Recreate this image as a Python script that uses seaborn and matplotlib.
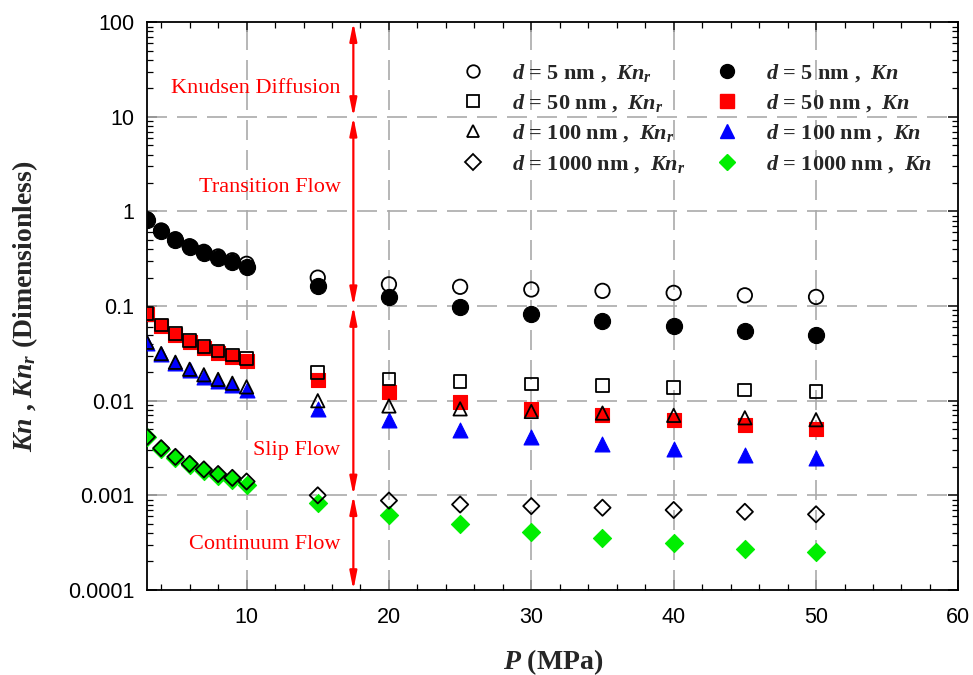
import numpy as np
import pandas as pd
import matplotlib
matplotlib.use("Agg")
import matplotlib.pyplot as plt
from matplotlib.lines import Line2D
from matplotlib.ticker import FixedLocator, FixedFormatter, MultipleLocator, LogLocator, NullFormatter
import seaborn as sns

# ---------------- data ----------------
pressure = [3, 4, 5, 6, 7, 8, 9, 10, 15, 20, 25, 30, 35, 40, 45, 50]

kn_5 = [0.82, 0.62, 0.50, 0.42, 0.36, 0.32, 0.29, 0.26, 0.165, 0.125, 0.098, 0.082, 0.070, 0.062, 0.055, 0.050]
knr_5 = [0.83, 0.63, 0.51, 0.43, 0.375, 0.335, 0.305, 0.28, 0.20, 0.17, 0.16, 0.15, 0.145, 0.138, 0.130, 0.125]

kn_50 = [0.082, 0.062, 0.050, 0.042, 0.036, 0.032, 0.029, 0.026, 0.0165, 0.0125, 0.0098, 0.0082, 0.0070, 0.0062, 0.0055, 0.0050]
knr_50 = [0.083, 0.063, 0.051, 0.043, 0.0375, 0.0335, 0.0305, 0.028, 0.020, 0.017, 0.016, 0.015, 0.0145, 0.0138, 0.0130, 0.0125]

kn_100 = [0.041, 0.031, 0.025, 0.021, 0.018, 0.016, 0.0145, 0.013, 0.0082, 0.0062, 0.0049, 0.0041, 0.0035, 0.0031, 0.0027, 0.0025]
knr_100 = [0.0415, 0.0315, 0.0255, 0.0215, 0.0188, 0.0168, 0.0153, 0.014, 0.010, 0.0088, 0.0082, 0.0077, 0.0074, 0.0070, 0.0066, 0.0063]

kn_1000 = [0.0041, 0.0031, 0.0025, 0.0021, 0.0018, 0.0016, 0.00145, 0.0013, 0.00082, 0.00062, 0.00050, 0.00041, 0.00035, 0.00031, 0.00027, 0.00025]
knr_1000 = [0.00415, 0.00315, 0.00255, 0.00215, 0.00188, 0.00168, 0.00153, 0.0014, 0.0010, 0.00088, 0.00080, 0.00077, 0.00074, 0.00070, 0.00067, 0.00063]

diameters = ["5", "50", "100", "1000"]
kn_series = [kn_5, kn_50, kn_100, kn_1000]
knr_series = [knr_5, knr_50, knr_100, knr_1000]

y_ticks = [1e-4, 1e-3, 1e-2, 1e-1, 1, 10, 100]
y_tick_labels = ["0.0001", "0.001", "0.01", "0.1", "1", "10", "100"]
x_ticks = [10, 20, 30, 40, 50, 60]

regimes = ["Knudsen Diffusion", "Transition Flow", "Slip Flow", "Continuum Flow"]
regime_y = [20, 1.8, 0.003, 0.0003]
regime_bounds = [100, 10, 0.1, 0.001, 0.0001]
arrow_x = 17.5

# ---------------- style ----------------
sns.set_theme(style="ticks")
plt.rcParams["font.family"] = ["Liberation Sans", "DejaVu Sans"]
plt.rcParams["mathtext.fontset"] = "custom"
plt.rcParams["mathtext.it"] = "Liberation Serif:italic:bold"
plt.rcParams["mathtext.rm"] = "Liberation Serif:bold"
plt.rcParams["mathtext.bf"] = "Liberation Serif:bold"

SERIF = ["Liberation Serif", "DejaVu Serif"]
fill_colors = ["black", "#ff0000", "#0000ff", "#00ee00"]
markers = ["o", "s", "^", "D"]
sizes = [135, 105, 115, 85]

rows = []
for d, kn, knr in zip(diameters, kn_series, knr_series):
    for p, a, b in zip(pressure, kn, knr):
        rows.append({"P": p, "value": a, "d": d, "kind": "Kn"})
        rows.append({"P": p, "value": b, "d": d, "kind": "Knr"})
df = pd.DataFrame(rows)

fig = plt.figure(figsize=(9.73, 6.75), dpi=100)
ax = fig.add_axes([0.151, 0.126, 0.834, 0.841])

# filled (Kn) markers
for d, c, m, s in zip(diameters, fill_colors, markers, sizes):
    sub = df[(df.d == d) & (df.kind == "Kn")]
    sns.scatterplot(data=sub, x="P", y="value", ax=ax, marker=m, s=s,
                    color=c, edgecolor=c, linewidth=0.8, zorder=3, legend=False)
# hollow (Kn_r) markers
for d, m, s in zip(diameters, markers, sizes):
    sub = df[(df.d == d) & (df.kind == "Knr")]
    sns.scatterplot(data=sub, x="P", y="value", ax=ax, marker=m, s=s * 0.8,
                    facecolor="none", edgecolor="black", linewidth=1.3, zorder=4, legend=False)

ax.set_yscale("log")
ax.set_xlim(3, 60)
ax.set_ylim(1e-4, 100)

ax.yaxis.set_major_locator(FixedLocator(y_ticks))
ax.yaxis.set_major_formatter(FixedFormatter(y_tick_labels))
ax.yaxis.set_minor_locator(LogLocator(base=10, subs=np.arange(2, 10)))
ax.yaxis.set_minor_formatter(NullFormatter())
ax.xaxis.set_major_locator(FixedLocator(x_ticks))
ax.xaxis.set_minor_locator(MultipleLocator(2))

ax.tick_params(which="both", direction="in", top=True, right=True, labelsize=15.5, colors="black")
ax.tick_params(which="major", length=7, width=1.1)
ax.tick_params(which="minor", length=4, width=0.9)
ax.tick_params(axis="x", pad=12)
ax.tick_params(axis="y", pad=9)
for sp in ax.spines.values():
    sp.set_linewidth(1.3)
    sp.set_color("black")

# dashed grid at major ticks
ax.grid(False)
for xv in x_ticks[:-1]:
    ax.axvline(xv, color="#aaaaaa", lw=1.2, ls=(0, (12, 6)), zorder=1)
for yv in y_ticks[1:-1]:
    ax.axhline(yv, color="#aaaaaa", lw=1.2, ls=(0, (12, 6)), zorder=1)

# regime arrows and labels
for top, bot in zip(regime_bounds[:-1], regime_bounds[1:]):
    ax.annotate("", xy=(arrow_x, bot), xytext=(arrow_x, top),
                arrowprops=dict(arrowstyle="<|-|>,head_length=0.9,head_width=0.18",
                                color="red", lw=1.6, shrinkA=0, shrinkB=0), zorder=5)
for name, yv in zip(regimes, regime_y):
    ax.text(16.6, yv, name, color="red", ha="right", va="center",
            fontsize=16, family=SERIF)

ax.set_xlabel(r"$P$ (MPa)", fontsize=20, fontweight="bold", family=SERIF, labelpad=14)
ax.set_ylabel(r"$Kn$ , $Kn_r$ (Dimensionless)", fontsize=20, fontweight="bold",
              family=SERIF, labelpad=20)

# legend
handles, labels = [], []
for d, m in zip(diameters, markers):
    handles.append(Line2D([], [], ls="none", marker=m, markersize=9 if m != "D" else 8,
                          markerfacecolor="none", markeredgecolor="black", markeredgewidth=1.3))
    labels.append(r"$d$ = %s nm ,  $Kn_r$" % d)
for d, m, c in zip(diameters, markers, fill_colors):
    handles.append(Line2D([], [], ls="none", marker=m, markersize=10 if m != "D" else 8.5,
                          markerfacecolor=c, markeredgecolor=c))
    labels.append(r"$d$ = %s nm ,  $Kn$" % d)
leg = ax.legend(handles, labels, ncol=2, frameon=False, loc="upper left",
                bbox_to_anchor=(0.364, 0.965),
                prop={"family": "Liberation Serif", "weight": "bold", "size": 16},
                handlelength=1.0, handletextpad=1.25, columnspacing=1.35,
                labelspacing=0.38, borderpad=0.4)

fig.savefig("out.png", dpi=100)
